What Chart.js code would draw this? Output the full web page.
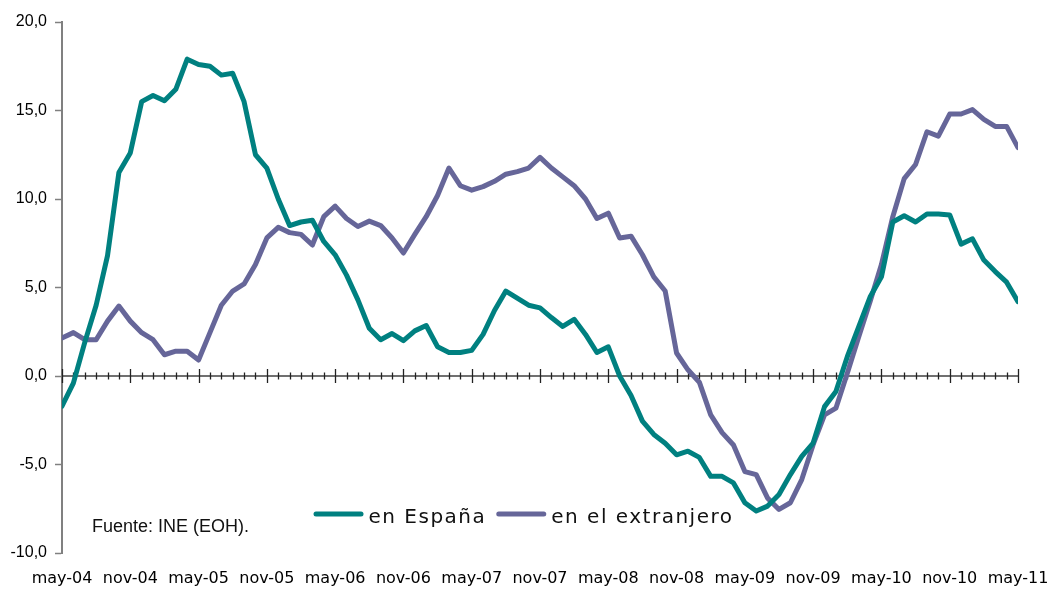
<!DOCTYPE html>
<html>
<head>
<meta charset="utf-8">
<script src="https://cdn.jsdelivr.net/npm/chart.js@4.4.0/dist/chart.umd.min.js"></script>
<style>
  html, body { margin: 0; padding: 0; background: #fff; }
  #wrap { width: 1047px; height: 589px; }
</style>
</head>
<body>
<div id="wrap"><canvas id="chart" width="1047" height="589"></canvas></div>
<script>
// Monthly series, may-04 .. may-11 (85 points).
const TICK_LABELS = ["may-04", "nov-04", "may-05", "nov-05", "may-06", "nov-06", "may-07",
  "nov-07", "may-08", "nov-08", "may-09", "nov-09", "may-10", "nov-10", "may-11"];

const SERIES_NAMES = ["en España", "en el extranjero"];

const ESPANA = [
  -1.7, -0.4, 1.9, 4.0, 6.8, 11.5, 12.6, 15.5, 15.85, 15.55, 16.2, 17.9,
  17.6, 17.5, 17.0, 17.1, 15.5, 12.5, 11.75, 10.0, 8.5, 8.7, 8.8, 7.6,
  6.85, 5.7, 4.3, 2.7, 2.05, 2.4, 2.0, 2.55, 2.85, 1.65, 1.33, 1.33,
  1.45, 2.35, 3.7, 4.8, 4.4, 4.0, 3.85, 3.3, 2.8, 3.2, 2.35, 1.33,
  1.65, 0.0, -1.1, -2.55, -3.3, -3.8, -4.45, -4.25, -4.6, -5.67, -5.67, -6.04,
  -7.16, -7.63, -7.35, -6.7, -5.57, -4.54, -3.79, -1.73, -0.88, 1.09, 2.77, 4.46,
  5.6, 8.7, 9.05, 8.7, 9.15, 9.15, 9.1, 7.45, 7.75, 6.55, 5.9, 5.3,
  4.2,
];

const EXTRANJERO = [
  2.15, 2.45, 2.05, 2.05, 3.1, 3.95, 3.1, 2.45, 2.05, 1.2, 1.4, 1.4,
  0.9, 2.45, 4.0, 4.8, 5.2, 6.3, 7.8, 8.4, 8.1, 8.0, 7.4, 9.0,
  9.6, 8.9, 8.45, 8.75, 8.5, 7.8, 6.95, 8.0, 9.0, 10.2, 11.75, 10.75,
  10.5, 10.7, 11.0, 11.4, 11.55, 11.75, 12.35, 11.75, 11.25, 10.75, 10.0, 8.9,
  9.2, 7.8, 7.9, 6.85, 5.6, 4.8, 1.3, 0.35, -0.35, -2.2, -3.2, -3.9,
  -5.4, -5.57, -6.9, -7.54, -7.16, -5.85, -3.88, -2.2, -1.82, 0.15, 2.2, 4.2,
  6.3, 9.0, 11.15, 11.95, 13.8, 13.55, 14.8, 14.8, 15.05, 14.5, 14.1, 14.1,
  12.9,
];

const SOURCE_NOTE = "Fuente: INE (EOH).";

const COLORS = ["#008080", "#666699"];

// x axis sits on the zero line, with a small tick per month and a longer
// one every six months crossing it.
const zeroAxis = {
  id: "zeroAxis",
  beforeDatasetsDraw(chart) {
    const { ctx, chartArea, scales: { x, y } } = chart;
    const y0 = y.getPixelForValue(0);
    ctx.save();
    ctx.strokeStyle = "#707070";
    ctx.lineWidth = 2;
    ctx.beginPath();
    ctx.moveTo(chartArea.left, y0);
    ctx.lineTo(chartArea.right, y0);
    ctx.stroke();
    ctx.strokeStyle = "#222";
    ctx.lineWidth = 1.3;
    for (let i = 0; i < ESPANA.length; i++) {
      const px = Math.round(x.getPixelForValue(i)) + 0.5;
      const half = i % 6 === 0 ? 7 : 3.5;
      ctx.beginPath();
      ctx.moveTo(px, y0 - half);
      ctx.lineTo(px, y0 + half);
      ctx.stroke();
    }
    ctx.restore();
  },
};

// Legend sits inside the plot, near the bottom, centred on the canvas.
const innerLegend = {
  id: "innerLegend",
  afterDraw(chart) {
    const { ctx, chartArea } = chart;
    ctx.save();
    ctx.font = '20px "DejaVu Sans"';
    ctx.letterSpacing = "1.5px";
    const sample = 50, gapText = 5, gapItem = 10;
    const widths = chart.data.datasets.map((d) => ctx.measureText(d.label).width);
    const total = widths.reduce((a, w) => a + sample + gapText + w, 0) + gapItem * (widths.length - 1);
    let xPos = (chart.width - total) / 2;
    const lineY = chartArea.bottom - 39;
    chart.data.datasets.forEach((d, i) => {
      ctx.strokeStyle = d.borderColor;
      ctx.lineWidth = 5;
      ctx.lineCap = "round";
      ctx.beginPath();
      ctx.moveTo(xPos + 2.5, lineY);
      ctx.lineTo(xPos + sample - 2.5, lineY);
      ctx.stroke();
      xPos += sample + gapText;
      ctx.fillStyle = "#111";
      ctx.textBaseline = "alphabetic";
      ctx.fillText(d.label, xPos, lineY + 9);
      xPos += widths[i] + gapItem;
    });
    ctx.letterSpacing = "0px";
    ctx.font = '18px "Liberation Sans"';
    ctx.fillStyle = "#111";
    ctx.fillText(SOURCE_NOTE, chartArea.left + 30, chartArea.bottom - 21);
    ctx.restore();
  },
};

const series = [ESPANA, EXTRANJERO];

new Chart(document.getElementById("chart"), {
  type: "line",
  data: {
    datasets: series.map((values, k) => ({
      label: SERIES_NAMES[k],
      data: values.map((v, i) => ({ x: i, y: v })),
      borderColor: COLORS[k],
      backgroundColor: COLORS[k],
      borderWidth: 5,
      pointRadius: 0,
      tension: 0,
      fill: false,
      borderJoinStyle: "round",
      borderCapStyle: "round",
    })),
  },
  options: {
    responsive: false,
    animation: false,
    layout: { padding: { left: 0, right: 29, top: 22, bottom: 0 } },
    plugins: { legend: { display: false }, tooltip: { enabled: false } },
    scales: {
      x: {
        type: "linear",
        min: 0,
        max: ESPANA.length - 1,
        grid: { display: false, drawTicks: false },
        border: { display: false },
        ticks: {
          stepSize: 6,
          autoSkip: false,
          maxRotation: 0,
          padding: 16,
          color: "#000",
          font: { family: "DejaVu Sans", size: 16 },
          callback: (v) => TICK_LABELS[v / 6] ?? "",
        },
        afterFit: (s) => { s.height = 36; s.paddingLeft = 0; s.paddingRight = 0; },
      },
      y: {
        min: -10,
        max: 20,
        grid: { drawOnChartArea: false, drawTicks: true, tickLength: 7, color: "#808080", tickWidth: 1.5 },
        border: { color: "#808080", width: 2 },
        ticks: {
          stepSize: 5,
          padding: 8,
          color: "#000",
          font: { family: "Liberation Sans", size: 16 },
          callback: (v) => v.toFixed(1).replace(".", ","),
        },
        afterFit: (s) => { s.width = 62; s.paddingTop = 0; s.paddingBottom = 0; },
      },
    },
  },
  plugins: [zeroAxis, innerLegend],
});
</script>
</body>
</html>
